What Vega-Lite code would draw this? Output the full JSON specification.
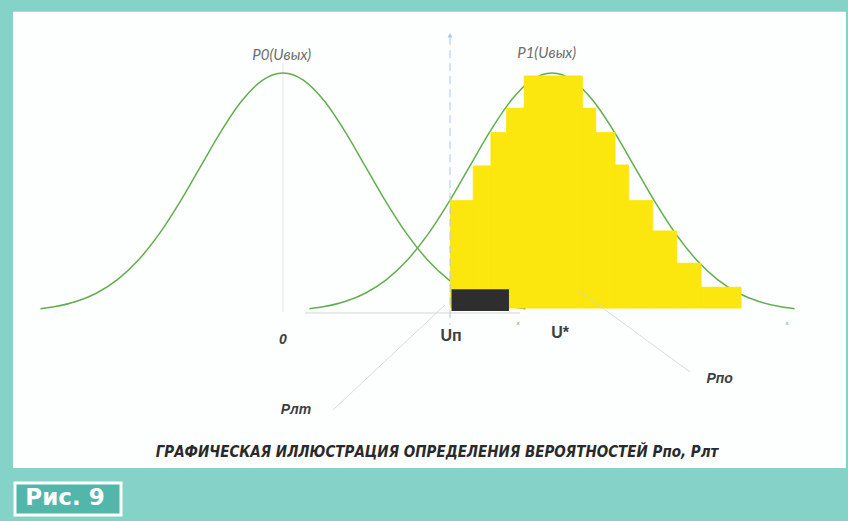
{
  "$schema": "https://vega.github.io/schema/vega-lite/v6.json",
  "width": 848,
  "height": 521,
  "padding": 0,
  "autosize": {"type": "fit", "contains": "padding"},
  "background": "#84d2c8",
  "config": {"view": {"stroke": null}},
  "datasets": {
    "panel": [{"x": -3.262, "x2": 6.801, "y": 1.256, "y2": -0.6527}],
    "figbox": [{"x": -3.238, "x2": -1.957, "y": -0.7155, "y2": -0.8494}],
    "guides": [{"x": 0, "y": 1.042, "y2": 0}],
    "axisline": [{"x": 0.266, "x2": 2.863, "y": -0.004}],
    "steps": [
      {"x": 2.026, "x2": 2.299, "y": 0.4657, "y2": 0.0167},
      {"x": 2.299, "x2": 2.513, "y": 0.6109, "y2": 0.0167},
      {"x": 2.513, "x2": 2.703, "y": 0.7502, "y2": 0.0167},
      {"x": 2.703, "x2": 2.915, "y": 0.8523, "y2": 0.0167},
      {"x": 2.915, "x2": 3.616, "y": 0.9874, "y2": 0.0167},
      {"x": 3.616, "x2": 3.778, "y": 0.8523, "y2": 0.0167},
      {"x": 3.778, "x2": 4.011, "y": 0.7502, "y2": 0.0167},
      {"x": 4.011, "x2": 4.172, "y": 0.615, "y2": 0.0167},
      {"x": 4.172, "x2": 4.462, "y": 0.4657, "y2": 0.0167},
      {"x": 4.462, "x2": 4.757, "y": 0.3389, "y2": 0.0167},
      {"x": 4.757, "x2": 5.05, "y": 0.2038, "y2": 0.0167},
      {"x": 5.05, "x2": 5.533, "y": 0.1033, "y2": 0.0167}
    ],
    "black": [{"x": 2.036, "x2": 2.73, "y": 0.095, "y2": 0.004}],
    "p0": [
      {"x": -2.93, "y": 0.0137}, {"x": -2.75, "y": 0.0228}, {"x": -2.5, "y": 0.0439}, {"x": -2.25, "y": 0.0796},
      {"x": -2.0, "y": 0.1353}, {"x": -1.75, "y": 0.2163}, {"x": -1.5, "y": 0.3247}, {"x": -1.25, "y": 0.4578},
      {"x": -1.0, "y": 0.6065}, {"x": -0.75, "y": 0.7548}, {"x": -0.5, "y": 0.8825}, {"x": -0.25, "y": 0.9692},
      {"x": 0, "y": 1.0},
      {"x": 0.25, "y": 0.9692}, {"x": 0.5, "y": 0.8825}, {"x": 0.75, "y": 0.7548}, {"x": 1.0, "y": 0.6065},
      {"x": 1.25, "y": 0.4578}, {"x": 1.5, "y": 0.3247}, {"x": 1.75, "y": 0.2163}, {"x": 2.0, "y": 0.1353},
      {"x": 2.25, "y": 0.0796}, {"x": 2.5, "y": 0.0439}, {"x": 2.75, "y": 0.0228}, {"x": 2.93, "y": 0.0137}
    ],
    "p1": [
      {"x": 0.32, "y": 0.0137}, {"x": 0.5, "y": 0.0228}, {"x": 0.75, "y": 0.0439}, {"x": 1.0, "y": 0.0796},
      {"x": 1.25, "y": 0.1353}, {"x": 1.5, "y": 0.2163}, {"x": 1.75, "y": 0.3247}, {"x": 2.0, "y": 0.4578},
      {"x": 2.25, "y": 0.6065}, {"x": 2.5, "y": 0.7548}, {"x": 2.75, "y": 0.8825}, {"x": 3.0, "y": 0.9692},
      {"x": 3.25, "y": 1.0},
      {"x": 3.5, "y": 0.9692}, {"x": 3.75, "y": 0.8825}, {"x": 4.0, "y": 0.7548}, {"x": 4.25, "y": 0.6065},
      {"x": 4.5, "y": 0.4578}, {"x": 4.75, "y": 0.3247}, {"x": 5.0, "y": 0.2163}, {"x": 5.25, "y": 0.1353},
      {"x": 5.5, "y": 0.0796}, {"x": 5.75, "y": 0.0439}, {"x": 6.0, "y": 0.0228}, {"x": 6.18, "y": 0.0137}
    ],
    "dash": [{"x": 2.018, "y": 1.15, "y2": -0.054}],
    "arrow": [{"x": 2.018, "y": 1.158}],
    "leaders": [
      {"x": 0.604, "y": -0.41, "x2": 1.957, "y2": 0.029},
      {"x": 3.564, "y": 0.092, "x2": 4.917, "y2": -0.251}
    ],
    "ticks": [{"x": 2.839, "y": -0.046, "label": "x"}, {"x": 6.089, "y": -0.046, "label": "x"}],
    "curvelabels": [
      {"x": -0.015, "y": 1.075, "label": "P0(Uвых)"},
      {"x": 3.186, "y": 1.085, "label": "P1(Uвых)"}
    ],
    "uplabels": [
      {"x": 2.03, "y": -0.099, "label": "Uп"},
      {"x": 3.347, "y": -0.088, "label": "U*"}
    ],
    "italiclabels": [
      {"x": 0, "y": -0.117, "label": "0"},
      {"x": 5.276, "y": -0.282, "label": "Pпо"},
      {"x": 0.157, "y": -0.41, "label": "Pлт"}
    ],
    "caption": [{"x": 1.861, "y": -0.586, "label": "ГРАФИЧЕСКАЯ ИЛЛЮСТРАЦИЯ ОПРЕДЕЛЕНИЯ ВЕРОЯТНОСТЕЙ  Pпо, Pлт"}],
    "fig": [{"x": -2.634, "y": -0.778, "label": "Рис. 9"}]
  },
  "encoding": {
    "x": {"field": "x", "type": "quantitative", "scale": {"domain": [-3.4191, 6.8261], "nice": false, "zero": false}, "axis": null},
    "y": {"field": "y", "type": "quantitative", "scale": {"domain": [-0.8745, 1.3054], "nice": false, "zero": false}, "axis": null}
  },
  "layer": [
    {"data": {"name": "panel"}, "mark": {"type": "rect", "color": "#fdfefe"}, "encoding": {"x2": {"field": "x2"}, "y2": {"field": "y2"}}},
    {"data": {"name": "figbox"}, "mark": {"type": "rect", "fill": "#52b6aa", "stroke": "#ffffff", "strokeWidth": 3}, "encoding": {"x2": {"field": "x2"}, "y2": {"field": "y2"}}},
    {"data": {"name": "guides"}, "mark": {"type": "rule", "color": "#e4e4e4", "strokeWidth": 1}, "encoding": {"y2": {"field": "y2"}}},
    {"data": {"name": "axisline"}, "mark": {"type": "rule", "color": "#d6d6d6", "strokeWidth": 1}, "encoding": {"x2": {"field": "x2"}}},
    {"data": {"name": "p0"}, "mark": {"type": "line", "color": "#62ae4c", "strokeWidth": 1.5, "interpolate": "monotone"}, "encoding": {}},
    {"data": {"name": "p1"}, "mark": {"type": "line", "color": "#62ae4c", "strokeWidth": 1.5, "interpolate": "monotone"}, "encoding": {}},
    {"data": {"name": "steps"}, "mark": {"type": "rect", "color": "#fbe60d", "stroke": "#fbe60d", "strokeWidth": 1}, "encoding": {"x2": {"field": "x2"}, "y2": {"field": "y2"}}},
    {"data": {"name": "black"}, "mark": {"type": "rect", "color": "#2e2e2e"}, "encoding": {"x2": {"field": "x2"}, "y2": {"field": "y2"}}},
    {"data": {"name": "dash"}, "mark": {"type": "rule", "color": "#a9c9ea", "strokeWidth": 1, "strokeDash": [8, 5]}, "encoding": {"y2": {"field": "y2"}}},
    {"data": {"name": "arrow"}, "mark": {"type": "point", "shape": "triangle-up", "filled": true, "color": "#a9c9ea", "size": 25, "opacity": 1}},
    {"data": {"name": "leaders"}, "mark": {"type": "rule", "color": "#d2d2d2", "strokeWidth": 0.8}, "encoding": {"x2": {"field": "x2"}, "y2": {"field": "y2"}}},
    {"data": {"name": "ticks"}, "mark": {"type": "text", "color": "#9a9a9a", "fontSize": 6, "font": "DejaVu Sans"}, "encoding": {"text": {"field": "label"}}},
    {"data": {"name": "curvelabels"}, "mark": {"type": "text", "color": "#6e6e6e", "fontSize": 15, "font": "Lato", "fontStyle": "italic", "baseline": "middle"}, "encoding": {"text": {"field": "label"}}},
    {"data": {"name": "uplabels"}, "mark": {"type": "text", "color": "#3e3e3e", "fontSize": 16, "font": "Liberation Sans", "fontWeight": "bold", "baseline": "middle"}, "encoding": {"text": {"field": "label"}}},
    {"data": {"name": "italiclabels"}, "mark": {"type": "text", "color": "#3e3e3e", "fontSize": 14, "font": "Liberation Sans", "fontWeight": "bold", "fontStyle": "italic", "baseline": "middle"}, "encoding": {"text": {"field": "label"}}},
    {"data": {"name": "caption"}, "mark": {"type": "text", "color": "#2a2a2a", "fontSize": 15, "font": "Liberation Sans Narrow, DejaVu Sans Condensed", "fontWeight": "bold", "fontStyle": "italic", "baseline": "middle"}, "encoding": {"text": {"field": "label"}}},
    {"data": {"name": "fig"}, "mark": {"type": "text", "color": "#ffffff", "fontSize": 23, "font": "DejaVu Sans", "fontWeight": "bold", "baseline": "middle"}, "encoding": {"text": {"field": "label"}}}
  ]
}
